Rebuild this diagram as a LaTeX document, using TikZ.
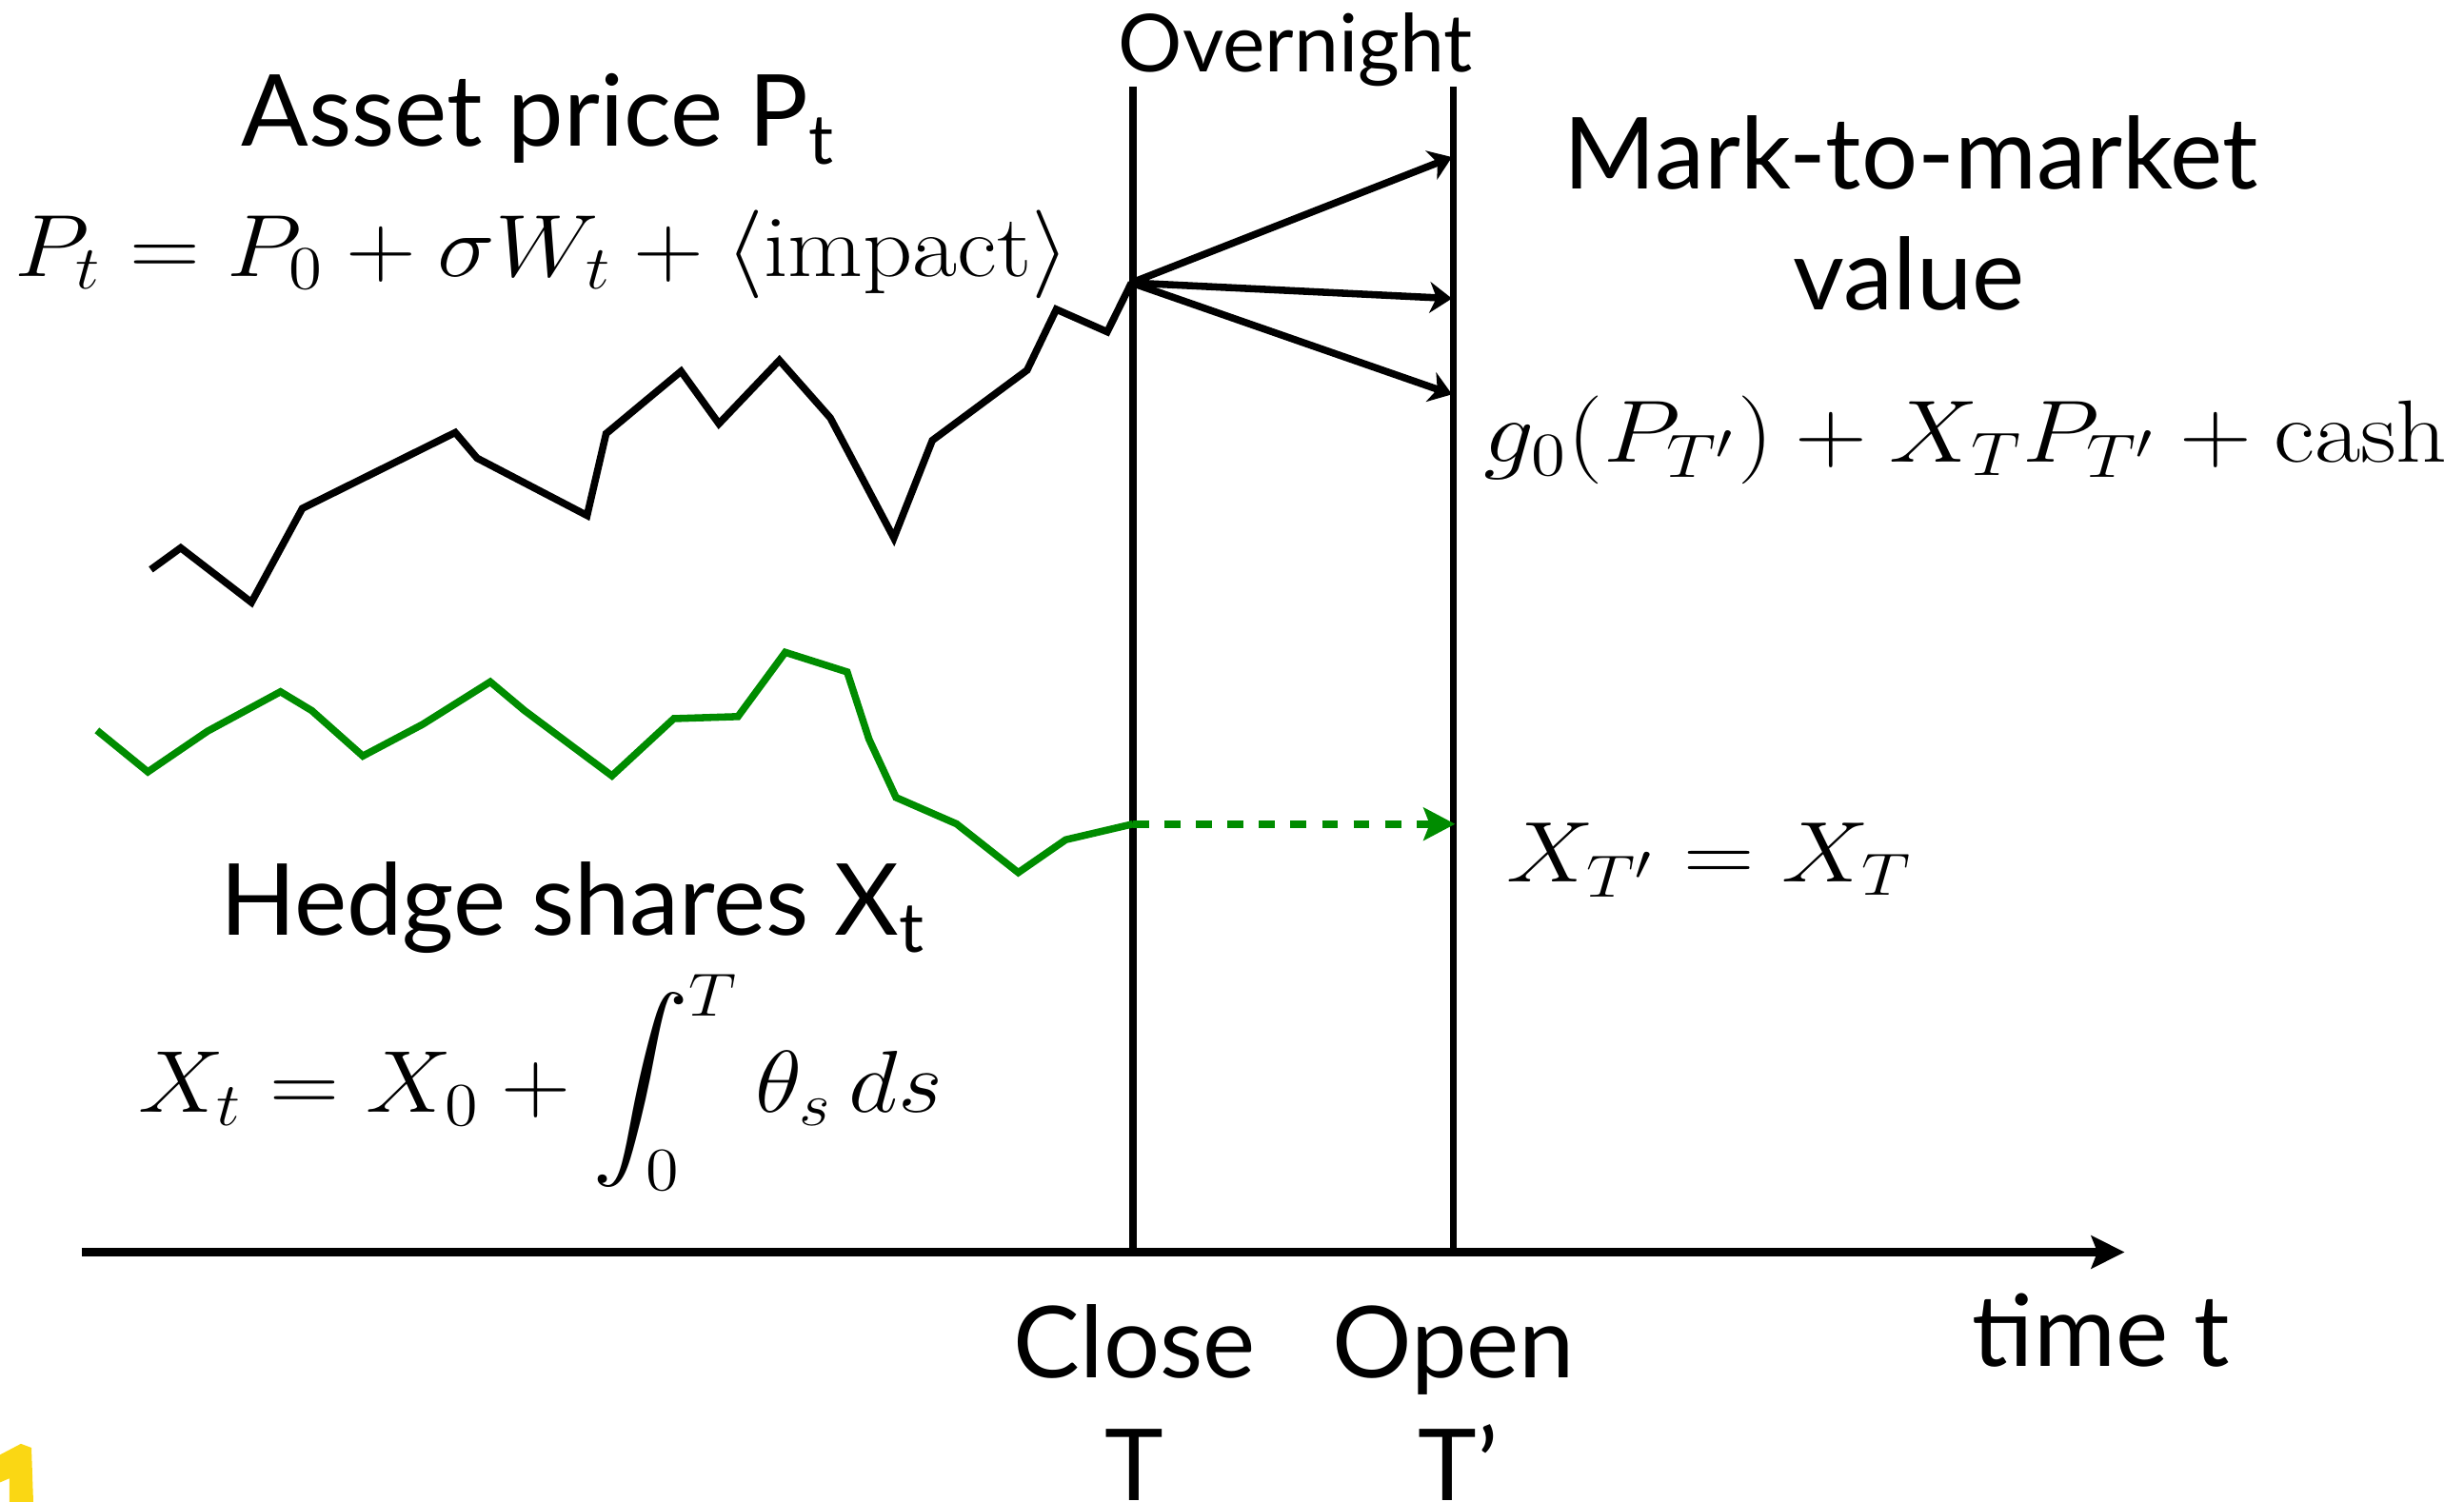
\documentclass[tikz,border=0pt]{standalone}
\usepackage{amsmath}
\usepackage{fontspec}
\newfontfamily\gillfont{Lato}
\usetikzlibrary{arrows.meta}
\definecolor{hedgegreen}{RGB}{0,140,0}
\definecolor{slideyellow}{RGB}{250,215,20}
\newcommand\lblsub[1]{\raisebox{-0.35ex}{\fontsize{12.5}{13}\selectfont #1}}

\begin{document}
\begin{tikzpicture}[x=0.01cm,y=-0.01cm,line width=1.3pt,
  lbl/.style={inner sep=0pt,anchor=base,font=\gillfont\fontsize{18}{20}\selectfont},
  fml/.style={inner sep=0pt,anchor=base,font=\LARGE},
  pricetip/.style={-{Stealth[length=4pt,width=5.6pt,inset=1.2pt]}},
  holdtip/.style={-{Stealth[length=5.7pt,width=5.9pt,inset=1.1pt]}}]
  \useasboundingbox (0,0) rectangle (1568,956);

  \coordinate (closetop) at (721,55);
  \coordinate (closebot) at (721,797);
  \coordinate (opentop) at (925,55);
  \coordinate (openbot) at (925,797);
  \coordinate (axisL) at (52,797);
  \coordinate (axisR) at (1352,797);
  \coordinate (pclose) at (720,180);
  \coordinate (pup) at (924,100);
  \coordinate (pmid) at (924,190);
  \coordinate (pdown) at (924,251);
  \coordinate (xclose) at (721,524.5);
  \coordinate (xopen) at (926,524.5);

  \draw (closetop) -- (closebot);
  \draw (opentop) -- (openbot);
  \draw[line width=1.7pt,-{Stealth[length=6pt,width=5.9pt,inset=1.1pt]}] (axisL) -- (axisR);

  \draw[line join=miter] (96,362.5) -- (115,348.7) -- (160,383.4) -- (192.4,323.6)
    -- (289.7,275.3) -- (303.6,291.6) -- (373.6,328.1) -- (385.7,276)
    -- (433.4,236.3) -- (457.5,269.7) -- (496,229.3) -- (528.4,266)
    -- (568.8,342.4) -- (593.3,280.3) -- (653.6,235.6) -- (672.2,196.9)
    -- (704.6,211.2) -- (pclose);
  \draw[pricetip] (pclose) -- (pup);
  \draw[pricetip] (pclose) -- (pmid);
  \draw[pricetip] (pclose) -- (pdown);

  \draw[hedgegreen] (61.7,464.9) -- (94.1,491.3) -- (132.1,465.4) -- (178.5,440.3)
    -- (198.4,452.3) -- (230.9,481.2) -- (268.9,461.1) -- (312,434)
    -- (333.8,452.3) -- (389.4,493.8) -- (428.8,457.4) -- (469.6,456.1)
    -- (499.7,415.2) -- (539.1,427.7) -- (553,470.5) -- (570.2,507.6)
    -- (608.7,524.4) -- (648,555.4) -- (678.2,534.5) -- (xclose);
  \draw[hedgegreen,line width=1.4pt,dash pattern=on 2.9pt off 2.8pt,holdtip] (xclose) -- (xopen);

  \node[lbl,font=\gillfont\fontsize{14.5}{16}\selectfont] (overnight) at (824.5,45.5) {Overnight};
  \node[lbl] (assetlbl) at (342,93) {Asset price P\lblsub{t}};
  \node[fml] (pricefml) at (345,175.7) {\scalebox{1.02}[0.925]{$P_t = P_0 + \sigma W_t + \langle\mathrm{impact}\rangle$}};
  \node[lbl] (mtmlbl) at (1216,120) {Mark-to-market};
  \node[lbl] (mtmvalue) at (1215,197) {value};
  \node[fml] (mtmfml) at (1251,293.9) {\scalebox{1.048}[0.925]{$g_0(P_{T'}) + X_T P_{T'} + \mathrm{cash}$}};
  \node[fml] (holdfml) at (1088,561.5) {\scalebox{1.03}[0.9]{$X_{T'} = X_T$}};
  \node[lbl] (hedgelbl) at (364,595) {Hedge shares X\lblsub{t}};
  \node[fml] (hedgefml) at (344,707.8) {\scalebox{1.01}[0.92]{$\displaystyle X_t = X_0 + \int_0^T \theta_s\,ds$}};
  \node[lbl] (closelbl) at (722,877) {Close};
  \node[lbl] (closeT) at (722,955) {T};
  \node[lbl] (openlbl) at (925,877) {Open};
  \node[lbl] (openT) at (928,955) {T’};
  \node[lbl] (timelbl) at (1337,870) {time t};

  \fill[slideyellow] (0,926) -- (13.3,919) -- (20,921.5) -- (21.2,956) -- (6,956)
    -- (6,941) -- (0,943.6) -- cycle;
\end{tikzpicture}
\end{document}
